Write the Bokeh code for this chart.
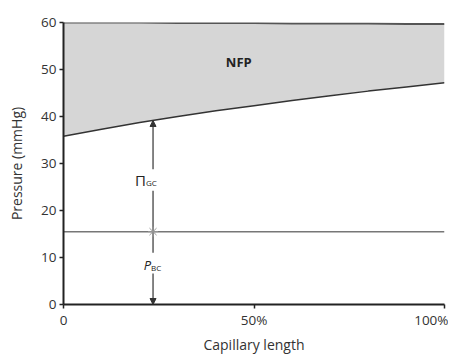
from bokeh.plotting import figure
from bokeh.models import Label, Arrow, NormalHead, FixedTicker, ColumnDataSource
from bokeh.embed import file_html
from bokeh.resources import INLINE

# Data (capillary length in %, pressures in mmHg)
length = [0, 10, 20, 30, 40, 50, 60, 70, 80, 90, 100]
p_gc = [60.0, 60.0, 60.0, 59.9, 59.9, 59.9, 59.8, 59.8, 59.8, 59.7, 59.7]
p_bc = [15.5] * 11
pi_gc = [20.3, 21.8, 23.2, 24.5, 25.7, 26.8, 27.9, 28.9, 29.9, 30.8, 31.7]
opposing = [b + p for b, p in zip(p_bc, pi_gc)]

arrow_x = 23.5
x_ticks = [0, 50, 100]
x_tick_labels = {0: "0", 50: "50%", 100: "100%"}
y_ticks = [0, 10, 20, 30, 40, 50, 60]

FONT = "Open Sans"

src = ColumnDataSource(dict(x=length, top=p_gc, bottom=opposing, pbc=p_bc))

p = figure(width=448, height=356, output_backend="svg", toolbar_location=None,
           x_range=(0, 100), y_range=(0, 60),
           min_border_left=63, min_border_right=4, min_border_top=22, min_border_bottom=51)
p.outline_line_color = None
p.xgrid.visible = False
p.ygrid.visible = False
p.background_fill_color = "white"
p.border_fill_color = "white"

# NFP area
p.varea(x="x", y1="bottom", y2="top", source=src, fill_color="#d6d6d6")
p.line(x="x", y="top", source=src, line_color="#555555", line_width=2)
p.line(x="x", y="bottom", source=src, line_color="#333333", line_width=1.5)
p.line(x="x", y="pbc", source=src, line_color="#777777", line_width=1.5)

# Arrow segments
y_pbc = p_bc[0]
top_at_arrow = opposing[2] + (opposing[3] - opposing[2]) * (arrow_x - 20) / 10
p.segment(x0=[arrow_x, arrow_x], y0=[y_pbc, y_pbc], x1=[arrow_x, arrow_x], y1=[24.2, 11.0],
          line_color="#333333", line_width=1.2)
p.add_layout(Arrow(x_start=arrow_x, y_start=28.8, x_end=arrow_x, y_end=top_at_arrow,
                   line_color="#333333", line_width=1.2,
                   end=NormalHead(size=6, fill_color="#333333", line_color="#333333")))
p.add_layout(Arrow(x_start=arrow_x, y_start=6.6, x_end=arrow_x, y_end=0,
                   line_color="#333333", line_width=1.2,
                   end=NormalHead(size=6, fill_color="#333333", line_color="#333333")))
p.scatter(x=[arrow_x], y=[y_pbc], marker="asterisk", size=10, line_color="#999999", line_width=1)

# Labels
def lab(x, y, text, size, style="normal", xo=0, yo=0, align="center", base="middle"):
    p.add_layout(Label(x=x, y=y, text=text, x_offset=xo, y_offset=yo,
                       text_font=FONT, text_font_size=size, text_font_style=style,
                       text_color="#222222", text_align=align, text_baseline=base))

lab(arrow_x, 60, "P", "13px", "italic", xo=-1, yo=1, align="right", base="bottom")
lab(arrow_x, 60, "GC", "8px", xo=-1, yo=0, align="left", base="bottom")
lab(arrow_x, 26.5, "Π", "15px", xo=-7, align="right")
lab(arrow_x, 26.5, "GC", "8px", xo=-7, yo=-3, align="left")
lab(arrow_x, 8.5, "P", "13px", "italic", xo=-2, align="right")
lab(arrow_x, 8.5, "BC", "8px", xo=-2, yo=-3, align="left")
lab(46, 51.5, "NFP", "13px", "bold")

# Axes
p.xaxis.ticker = FixedTicker(ticks=x_ticks)
p.xaxis.major_label_overrides = x_tick_labels
p.yaxis.ticker = FixedTicker(ticks=y_ticks)
for ax in (p.xaxis[0], p.yaxis[0]):
    ax.axis_line_color = "#222222"
    ax.axis_line_width = 2
    ax.major_tick_line_color = "#222222"
    ax.major_tick_line_width = 1.5
    ax.major_tick_out = 4
    ax.major_tick_in = 0
    ax.minor_tick_line_color = None
    ax.major_label_text_font = FONT
    ax.major_label_text_font_size = "13.5px"
    ax.major_label_text_color = "#333333"
    ax.axis_label_text_font = FONT
    ax.axis_label_text_font_size = "14px"
    ax.axis_label_text_font_style = "normal"
    ax.axis_label_text_color = "#333333"
p.xaxis.axis_label = "Capillary length"
p.yaxis.axis_label = "Pressure (mmHg)"
p.xaxis.axis_label_standoff = 3
p.yaxis.axis_label_standoff = 12
p.yaxis.major_label_standoff = 3
p.xaxis.major_label_standoff = 2

open("out.html", "w").write(file_html(p, INLINE))
